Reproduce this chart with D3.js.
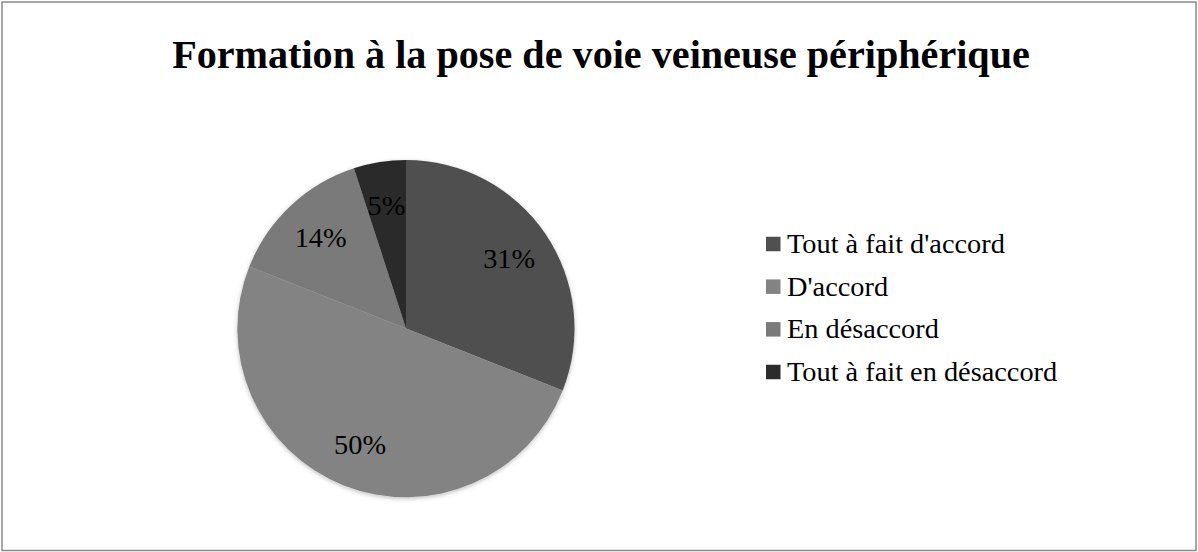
<!DOCTYPE html>
<html>
<head>
<meta charset="utf-8">
<script src="https://cdn.jsdelivr.net/npm/d3@7"></script>
<style>
  html, body { margin: 0; padding: 0; background: #fff; }
  svg { display: block; font-family: "Liberation Serif", "DejaVu Serif", serif; }
</style>
</head>
<body>
<svg id="chart" width="1198" height="552"></svg>
<script>
const title = 'Formation à la pose de voie veineuse périphérique';
const categories = ["Tout à fait d'accord", "D'accord", 'En désaccord', 'Tout à fait en désaccord'];
const values = [31, 50, 14, 5];
const colors = ['#505050', '#838383', '#7a7a7a', '#2c2c2c'];

const svg = d3.select('#chart');
const width = 1198;
const height = 552;

// frame
svg.append('rect')
    .attr('x', 2)
    .attr('y', 2)
    .attr('width', width - 4)
    .attr('height', height - 3.5)
    .attr('fill', '#fff')
    .attr('stroke', '#8a8a8a')
    .attr('stroke-width', 1.5);

// make a text fit a measured width
function fit (sel, base, target) {
    sel.attr('font-size', base);
    const w = sel.node().getComputedTextLength();
    sel.attr('font-size', base * target / w);
}

// TITLE
const titleText = svg.append('text')
    .attr('x', 601)
    .attr('y', 68)
    .attr('text-anchor', 'middle')
    .attr('font-weight', 'bold')
    .attr('fill', '#000')
    .text(title);
fit(titleText, 32, 858);

// PIE
const cx = 406;
const cy = 328.5;
const radius = 168.5;

const defs = svg.append('defs');
const shadow = defs.append('filter')
    .attr('id', 'soft')
    .attr('x', '-10%').attr('y', '-10%')
    .attr('width', '120%').attr('height', '125%');
shadow.append('feDropShadow')
    .attr('dx', 0).attr('dy', 1.5)
    .attr('stdDeviation', 2)
    .attr('flood-color', '#000')
    .attr('flood-opacity', 0.25);

const pie = d3.pie().sort(null).value(d => d);
const arcs = pie(values);
const arc = d3.arc().innerRadius(0).outerRadius(radius);
const labelArc = d3.arc().innerRadius(radius * 0.74).outerRadius(radius * 0.74);

const g = svg.append('g')
    .attr('transform', `translate(${cx},${cy})`);

g.append('g')
    .attr('filter', 'url(#soft)')
    .selectAll('path')
    .data(arcs)
    .join('path')
    .attr('d', arc)
    .attr('fill', (d, i) => colors[i]);

const labels = g.selectAll('.pieLabel')
    .data(arcs)
    .join('text')
    .attr('class', 'pieLabel')
    .attr('text-anchor', 'middle')
    .attr('dominant-baseline', 'central')
    .attr('fill', '#000')
    .attr('transform', d => `translate(${labelArc.centroid(d)})`)
    .text(d => `${d.data}%`);
labels.attr('font-size', 23);
const w31 = labels.filter((d, i) => i === 0).node().getComputedTextLength();
labels.attr('font-size', 23 * 52 / w31);

// LEGEND
const rows = d3.scalePoint()
    .domain(categories)
    .range([244, 372]);
const sq = 14.5;

const legend = svg.append('g');
const items = legend.selectAll('.item')
    .data(categories)
    .join('g')
    .attr('class', 'item')
    .attr('transform', d => `translate(766,${rows(d)})`);

items.append('rect')
    .attr('x', 0)
    .attr('y', -sq / 2)
    .attr('width', sq)
    .attr('height', sq)
    .attr('fill', (d, i) => colors[i]);

const legendText = items.append('text')
    .attr('x', 21)
    .attr('y', 9)
    .attr('fill', '#000')
    .text(d => d);
legendText.attr('font-size', 22);
const wFirst = legendText.filter((d, i) => i === 0).node().getComputedTextLength();
legendText.attr('font-size', 22 * 218 / wFirst);
</script>
</body>
</html>
